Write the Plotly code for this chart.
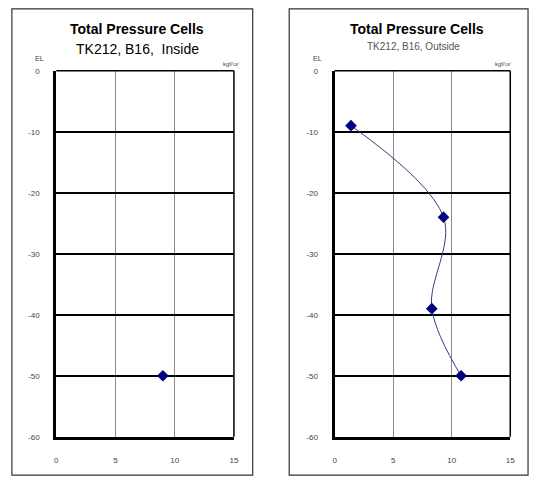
import plotly.graph_objects as go

# Data
inside_pressure = [9.0]
inside_el = [-50]
outside_pressure = [1.4, 9.3, 8.3, 10.8]
outside_el = [-9, -24, -39, -50]

x_ticks = [0, 5, 10, 15]
y_ticks = [0, -10, -20, -30, -40, -50, -60]

W, H = 536, 483
def px(x): return x / W
def py(y): return 1 - y / H

fig = go.Figure()
marker = dict(symbol="diamond", size=9, color="#000080")
fig.add_trace(go.Scatter(x=inside_pressure, y=inside_el, mode="markers", marker=marker,
                         xaxis="x", yaxis="y", showlegend=False))
fig.add_trace(go.Scatter(x=outside_pressure, y=outside_el, mode="lines+markers", marker=marker,
                         line=dict(shape="spline", smoothing=1.0, color="#3a3a80", width=1),
                         xaxis="x2", yaxis="y2", showlegend=False))

tickfont = dict(family="Liberation Sans, Arial, sans-serif", size=8, color="#444")
def xax(dom):
    return dict(domain=dom, range=[0, 15], tickvals=x_ticks, ticktext=[str(v) for v in x_ticks],
                showgrid=True, gridcolor="#8a8a8a", gridwidth=1, zeroline=False,
                showline=True, linecolor="black", linewidth=3, ticks="", tickfont=tickfont,
                ticklabelstandoff=14, fixedrange=True)
def yax(dom, anchor):
    return dict(domain=dom, range=[-60, 0], tickvals=y_ticks, ticktext=[str(v) for v in y_ticks],
                showgrid=True, gridcolor="black", gridwidth=1.5, zeroline=False,
                showline=True, linecolor="black", linewidth=3, ticks="", tickfont=tickfont,
                ticklabelstandoff=12, anchor=anchor, fixedrange=True)

ydom = [py(441), py(68)]
fig.update_layout(
    width=W, height=H, margin=dict(l=0, r=0, t=0, b=0),
    paper_bgcolor="white", plot_bgcolor="white",
    xaxis=dict(xax([px(55), px(235)]), anchor="y"),
    yaxis=yax(ydom, "x"),
    xaxis2=dict(xax([px(337), px(515)]), anchor="y2"),
    yaxis2=yax(ydom, "x2"),
)

shapes = []
# outer boxes
shapes.append(dict(type="rect", xref="paper", yref="paper", x0=px(10), x1=px(254), y0=py(480), y1=py(5),
                   line=dict(color="#333", width=1.2)))
shapes.append(dict(type="rect", xref="paper", yref="paper", x0=px(291), x1=px(533), y0=py(480), y1=py(5),
                   line=dict(color="#333", width=1.2)))
# top and right thin borders of plot areas
for xr, yr in [("x domain", "y domain"), ("x2 domain", "y2 domain")]:
    shapes.append(dict(type="line", xref=xr, yref=yr, x0=0, x1=1, y0=1, y1=1, line=dict(color="black", width=1.5)))
    shapes.append(dict(type="line", xref=xr, yref=yr, x0=1, x1=1, y0=0, y1=1, line=dict(color="black", width=1.5)))
fig.update_layout(shapes=shapes)

ann = []
tf = "Liberation Sans, Arial, sans-serif"
def add(text, x, y, size, color="black"):
    ann.append(dict(text=text, x=px(x), y=py(y), xref="paper", yref="paper",
                    xanchor="center", yanchor="middle", showarrow=False,
                    font=dict(family=tf, size=size, color=color)))
add("<b>Total Pressure Cells</b>", 137, 25, 14)
add("TK212, B16,\u00a0\u00a0Inside", 137, 46, 14)
add("<b>Total Pressure Cells</b>", 420, 25, 14)
add("TK212, B16, Outside", 417, 43, 10, "#555")
for xl, xu in [(38, 232), (320, 508)]:
    add("EL", xl, 56, 7, "#444")
    add("kgf/㎠", xu, 61, 6, "#444")
fig.update_layout(annotations=ann)

fig.write_html("out.html", config={"displayModeBar": False},
               post_script="document.body.style.margin='0';")
